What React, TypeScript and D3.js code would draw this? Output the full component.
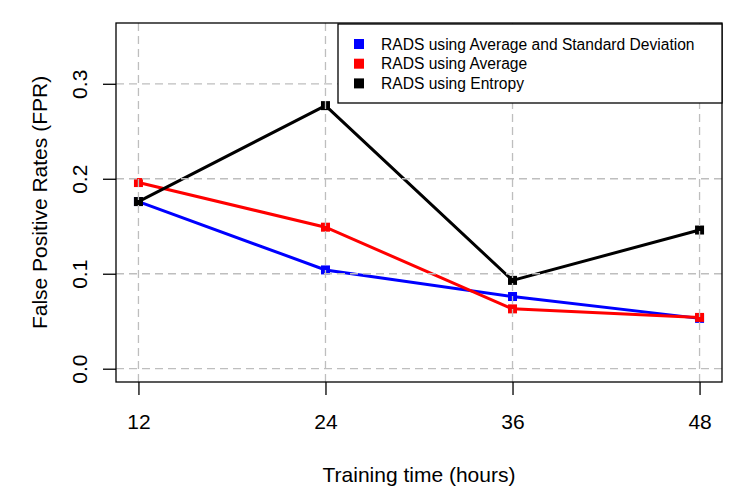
import React, { useRef, useEffect } from 'react';
import * as d3 from 'd3';

const hours = [12, 24, 36, 48];
const avgSd = [0.176, 0.104, 0.076, 0.053];
const avg = [0.196, 0.149, 0.063, 0.054];
const entropy = [0.176, 0.277, 0.093, 0.146];
const yTicks = [0.0, 0.1, 0.2, 0.3];

const seriesNames = [
  'RADS using Average and Standard Deviation',
  'RADS using Average',
  'RADS using Entropy',
];
const seriesColors = ['#0000ff', '#ff0000', '#000000'];

const W = 747;
const H = 498;

const App: React.FC = () => {
  const svgRef = useRef<SVGSVGElement>(null);

  useEffect(() => {
    if (!svgRef.current) return;
    const svg = d3.select(svgRef.current);
    svg.selectAll('*').remove();

    const left = 116, right = 722, top = 23, bottom = 382;
    const font = "'Liberation Sans', Arial, Helvetica, sans-serif";
    const fs = 21;

    // R style 4% axis extension
    const x = d3.scaleLinear().domain([10.56, 49.44]).range([left, right]);
    const y = d3.scaleLinear().domain([-0.014, 0.364]).range([bottom, top]);

    const allSeries = [avgSd, avg, entropy];

    const line = d3.line<number>()
      .x((d, i) => x(hours[i]))
      .y(d => y(d));

    const plot = svg.append('g');

    allSeries.forEach((vals, s) => {
      plot.append('path')
        .attr('d', line(vals) || '')
        .attr('fill', 'none')
        .attr('stroke', seriesColors[s])
        .attr('stroke-width', 3);
      plot.selectAll(null)
        .data(vals)
        .enter()
        .append('rect')
        .attr('x', (d, i) => x(hours[i]) - 4.5)
        .attr('y', d => y(d) - 4.5)
        .attr('width', 9)
        .attr('height', 9)
        .attr('fill', seriesColors[s]);
    });

    // grid drawn over the lines, as in the original
    const grid = svg.append('g')
      .attr('stroke', '#bebebe')
      .attr('stroke-width', 1.3)
      .attr('stroke-dasharray', '8,5');
    hours.forEach(h => {
      grid.append('line')
        .attr('x1', x(h)).attr('x2', x(h))
        .attr('y1', top).attr('y2', bottom);
    });
    yTicks.forEach(t => {
      grid.append('line')
        .attr('x1', left).attr('x2', right)
        .attr('y1', y(t)).attr('y2', y(t));
    });

    // box
    svg.append('rect')
      .attr('x', left).attr('y', top)
      .attr('width', right - left).attr('height', bottom - top)
      .attr('fill', 'none')
      .attr('stroke', '#000')
      .attr('stroke-width', 1.3);

    // x axis
    const xAxis = svg.append('g')
      .attr('transform', `translate(0,${bottom})`)
      .call(d3.axisBottom(x).tickValues(hours).tickSize(13).tickFormat(d3.format('d')));
    xAxis.select('.domain').remove();
    xAxis.selectAll('line').attr('stroke-width', 1.3);
    xAxis.selectAll('text')
      .attr('font-family', font)
      .attr('font-size', fs)
      .attr('fill', '#000')
      .attr('y', 47)
      .attr('dy', null);

    // y axis
    const yAxis = svg.append('g')
      .attr('transform', `translate(${left},0)`)
      .call(d3.axisLeft(y).tickValues(yTicks).tickSize(13).tickFormat(d3.format('.1f')));
    yAxis.select('.domain').remove();
    yAxis.selectAll('line').attr('stroke-width', 1.3);
    yAxis.selectAll('text')
      .attr('font-family', font)
      .attr('font-size', fs)
      .attr('fill', '#000')
      .attr('text-anchor', 'middle')
      .attr('x', null)
      .attr('dy', null)
      .attr('transform', 'translate(-29,0) rotate(-90)');

    // axis titles
    svg.append('text')
      .attr('x', (left + right) / 2)
      .attr('y', 482)
      .attr('text-anchor', 'middle')
      .attr('font-family', font)
      .attr('font-size', fs)
      .text('Training time (hours)');

    svg.append('text')
      .attr('transform', `translate(47,${(top + bottom) / 2}) rotate(-90)`)
      .attr('text-anchor', 'middle')
      .attr('font-family', font)
      .attr('font-size', fs)
      .text('False Positive Rates (FPR)');

    // legend
    const lg = svg.append('g');
    lg.append('rect')
      .attr('x', 338).attr('y', 24)
      .attr('width', right - 338).attr('height', 79)
      .attr('fill', '#fff')
      .attr('stroke', '#000')
      .attr('stroke-width', 1.3);
    seriesNames.forEach((name, i) => {
      const cy = 44 + i * 19.7;
      lg.append('rect')
        .attr('x', 354).attr('y', cy - 5)
        .attr('width', 10).attr('height', 10)
        .attr('fill', seriesColors[i]);
      lg.append('text')
        .attr('x', 381).attr('y', cy)
        .attr('dy', '0.36em')
        .attr('font-family', font)
        .attr('font-size', 15.6)
        .text(name);
    });
  }, []);

  return (
    <div style={{ position: 'absolute', left: 0, top: 0 }}>
      <svg ref={svgRef} width={W} height={H} style={{ display: 'block', background: '#fff' }} />
    </div>
  );
};

export default App;
